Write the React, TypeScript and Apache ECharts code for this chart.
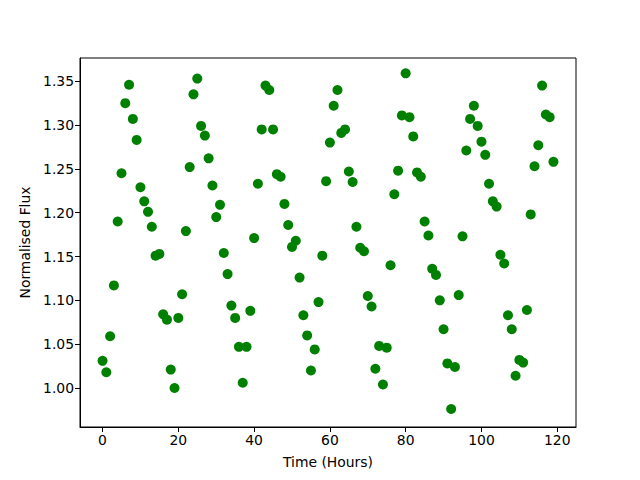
import React, { useEffect, useRef } from "react";
import * as echarts from "echarts";

const hours: number[] = Array.from({ length: 120 }, (_, i) => i);
const flux: number[] = [
  1.031, 1.018, 1.059, 1.117, 1.19, 1.245, 1.325, 1.346, 1.307, 1.283,
  1.229, 1.213, 1.201, 1.184, 1.151, 1.153, 1.084, 1.078, 1.021, 1.0,
  1.08, 1.107, 1.179, 1.252, 1.335, 1.353, 1.299, 1.288, 1.262, 1.231,
  1.195, 1.209, 1.154, 1.13, 1.094, 1.08, 1.047, 1.006, 1.047, 1.088,
  1.171, 1.233, 1.295, 1.345, 1.34, 1.295, 1.244, 1.241, 1.21, 1.186,
  1.161, 1.168, 1.126, 1.083, 1.06, 1.02, 1.044, 1.098, 1.151, 1.236,
  1.28, 1.322, 1.34, 1.291, 1.295, 1.247, 1.235, 1.184, 1.16, 1.156,
  1.105, 1.093, 1.022, 1.048, 1.004, 1.046, 1.14, 1.221, 1.248, 1.311,
  1.359, 1.309, 1.287, 1.246, 1.241, 1.19, 1.174, 1.136, 1.129, 1.1,
  1.067, 1.028, 0.976, 1.024, 1.106, 1.173, 1.271, 1.307, 1.322, 1.299,
  1.281, 1.266, 1.233, 1.213, 1.207, 1.152, 1.142, 1.083, 1.067, 1.014,
  1.032, 1.029, 1.089, 1.198, 1.253, 1.277, 1.345, 1.312, 1.309, 1.258,
];
const xTicks: number[] = [0, 20, 40, 60, 80, 100, 120];
const yTicks: number[] = [1.0, 1.05, 1.1, 1.15, 1.2, 1.25, 1.3, 1.35];

export default function App() {
  const ref = useRef<HTMLDivElement>(null);
  useEffect(() => {
    if (!ref.current) return;
    const chart = echarts.init(ref.current, undefined, { renderer: "svg" });
    const font = "DejaVu Sans";
    const axisCommon = {
      axisLine: { show: true, onZero: false, lineStyle: { color: "#000", width: 1 } },
      axisTick: { show: true, length: 5, lineStyle: { color: "#000", width: 1 } },
      splitLine: { show: false },
      nameTextStyle: { color: "#000", fontSize: 13.9, fontFamily: font },
    };
    chart.setOption({
      animation: false,
      backgroundColor: "#fff",
      grid: { left: 80, right: 64, top: 58, bottom: 53, show: true, borderColor: "#000", borderWidth: 1, backgroundColor: "transparent" },
      xAxis: {
        type: "value",
        min: -5.95,
        max: 124.95,
        name: "Time (Hours)",
        nameLocation: "middle",
        nameGap: 28,
        ...axisCommon,
        axisTick: { ...axisCommon.axisTick, customValues: xTicks },
        axisLabel: { customValues: xTicks, color: "#000", fontSize: 13.9, fontFamily: font, margin: 6 },
      },
      yAxis: {
        type: "value",
        min: 0.9555,
        max: 1.3765,
        name: "Normalised Flux",
        nameLocation: "middle",
        nameGap: 47,
        ...axisCommon,
        axisTick: { ...axisCommon.axisTick, customValues: yTicks },
        axisLabel: {
          customValues: yTicks,
          color: "#000",
          fontSize: 13.9,
          fontFamily: font,
          margin: 6,
          formatter: (v: number) => v.toFixed(2),
        },
      },
      series: [
        {
          type: "scatter",
          data: hours.map((h, i) => [h, flux[i]]),
          symbol: "circle",
          symbolSize: 10,
          itemStyle: { color: "#008000", opacity: 1 },
        },
      ],
    });
    return () => chart.dispose();
  }, []);
  return <div ref={ref} style={{ width: 640, height: 480, position: "absolute", left: 0, top: 0 }} />;
}
